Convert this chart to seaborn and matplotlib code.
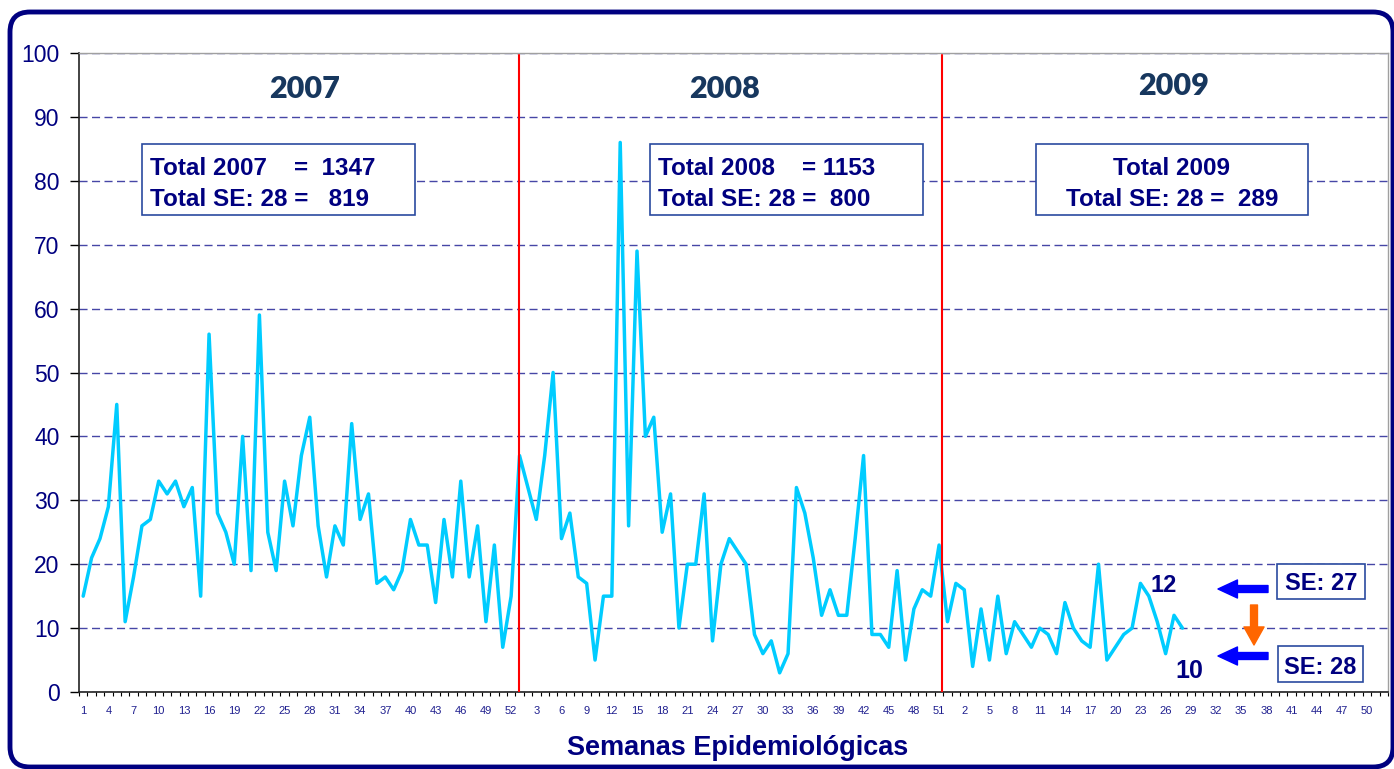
import numpy as np
import pandas as pd
import matplotlib
matplotlib.use('Agg')
import matplotlib.pyplot as plt
import seaborn as sns
from matplotlib.patches import Rectangle, FancyBboxPatch, FancyArrowPatch
from matplotlib.transforms import IdentityTransform

sns.set_style('white')
plt.rcParams['font.family'] = ['Liberation Sans', 'DejaVu Sans']

# casos semanales por semana epidemiologica
casos_2007 = [15, 21, 24, 29, 45, 11, 18, 26, 27, 33, 31, 33, 29, 32, 15, 56, 28, 25, 20, 40,
              19, 59, 25, 19, 33, 26, 37, 43, 26, 18, 26, 23, 42, 27, 31, 17, 18, 16, 19, 27,
              23, 23, 14, 27, 18, 33, 18, 26, 11, 23, 7, 15]
casos_2008 = [37, 32, 27, 37, 50, 24, 28, 18, 17, 5, 15, 15, 86, 26, 69, 40, 43, 25, 31, 10,
              20, 20, 31, 8, 20, 24, 22, 20, 9, 6, 8, 3, 6, 32, 28, 21, 12, 16, 12, 12,
              24, 37, 9, 9, 7, 19, 5, 13, 16, 15, 23, 11]
casos_2009 = [17, 16, 4, 13, 5, 15, 6, 11, 9, 7, 10, 9, 6, 14, 10, 8, 7, 20, 5, 7,
              9, 10, 17, 15, 11, 6, 12, 10]
semanas = list(range(1, 53))
anios = ['2007', '2008', '2009']
totales = ['Total 2007    =  1347', 'Total SE: 28 =   819',
           'Total 2008    = 1153', 'Total SE: 28 =  800',
           'Total 2009', 'Total SE: 28 =  289']

casos = casos_2007 + casos_2008 + casos_2009
df = pd.DataFrame({'pos': np.arange(len(casos)), 'casos': casos})
etiquetas = semanas * 3
n_cat = len(etiquetas)

W, H = 1394, 769
fig = plt.figure(figsize=(W / 100, H / 100), dpi=100)
ax = fig.add_axes([79 / W, 77 / H, 1309 / W, 639 / H])

def pa(x, y):
    # pixel de la imagen -> fraccion de ejes
    return ((x - 79) / 1309, (692 - y) / 639)

sns.lineplot(data=df, x='pos', y='casos', color='#00CCFF', lw=2.5, ax=ax, zorder=5)

ax.set_xlim(-0.5, n_cat - 0.5)
ax.set_ylim(0, 100)
ax.set_xlabel('')
ax.set_ylabel('')

ax.set_yticks(range(0, 101, 10))
ax.set_xticks(np.arange(0, n_cat, 3))
ax.set_xticklabels(etiquetas[::3])
ax.set_xticks(np.arange(-0.5, n_cat, 1), minor=True)

ax.tick_params(axis='y', which='major', left=True, length=6.5, width=1, color='black',
               labelsize=16.5, labelcolor='#000080', pad=7.5, direction='out')
ax.tick_params(axis='x', which='major', bottom=True, length=0, labelsize=8,
               labelcolor='#1F1F8F', pad=10)
ax.tick_params(axis='x', which='minor', bottom=True, length=3, width=0.8,
               color='black', direction='out')

ax.yaxis.grid(True, color='#4646A6', lw=1.0, linestyle=(0, (5.8, 3.2)))
ax.set_axisbelow(True)

for s in ['left', 'bottom']:
    ax.spines[s].set_color('#222222')
    ax.spines[s].set_linewidth(1.2)
for s in ['top', 'right']:
    ax.spines[s].set_color('#A0A0A0')
    ax.spines[s].set_linewidth(1.0)

# separadores de año
for xr in [51.9, 102.3]:
    ax.axvline(xr, ymin=0, ymax=0.997, color='#FF0000', lw=1.5, zorder=6)

# años
for (x, y), a in zip([(305, 98), (725, 98), (1174, 95)], anios):
    ax.text(*pa(x, y), a, transform=ax.transAxes, ha='center', va='baseline',
            fontsize=22, fontweight='heavy', color='#17375E', family=['Lato', 'DejaVu Sans'])

# cuadros de totales
cajas = [(142, 415), (650, 923), (1036, 1308)]
for k, (x0, x1) in enumerate(cajas):
    a0 = pa(x0, 215)
    a1 = pa(x1, 144)
    ax.add_patch(Rectangle(a0, a1[0] - a0[0], a1[1] - a0[1], transform=ax.transAxes,
                           facecolor='white', edgecolor='#2A4A9F', lw=1.2, zorder=3))
    if k < 2:
        xt, ha = x0 + 8, 'left'
    else:
        xt, ha = (x0 + x1) / 2, 'center'
    for j, yb in enumerate([175, 206.5]):
        ax.text(*pa(xt, yb), totales[2 * k + j], transform=ax.transAxes, ha=ha,
                va='baseline', fontsize=17.5, fontweight='bold', color='#000080', zorder=4)

# cuadros SE
for (x0, x1, y0, y1), txt in zip([(1277, 1365, 564, 599), (1278, 1363, 646, 682)],
                                 ['SE: 27', 'SE: 28']):
    a0 = pa(x0, y1)
    a1 = pa(x1, y0)
    ax.add_patch(Rectangle(a0, a1[0] - a0[0], a1[1] - a0[1], transform=ax.transAxes,
                           facecolor='white', edgecolor='#2A4A9F', lw=1.2, zorder=3))
    ax.text(*pa((x0 + x1) / 2, y1 - 8.5), txt, transform=ax.transAxes, ha='center',
            va='baseline', fontsize=17, fontweight='bold', color='#000080', zorder=4)

ax.text(*pa(1164, 592), '12', transform=ax.transAxes, ha='center', va='baseline',
        fontsize=17, fontweight='bold', color='#000080', zorder=7)
ax.text(*pa(1189, 678), '10', transform=ax.transAxes, ha='center', va='baseline',
        fontsize=18, fontweight='bold', color='#000080', zorder=7)

# flechas
for yy in [589, 656]:
    ax.add_patch(FancyArrowPatch(pa(1268, yy), pa(1218, yy), transform=ax.transAxes,
                                 arrowstyle='simple,head_length=14,head_width=13,tail_width=5',
                                 color='#0000FF', shrinkA=0, shrinkB=0, zorder=7))
ax.add_patch(FancyArrowPatch(pa(1254, 605), pa(1254, 645), transform=ax.transAxes,
                             arrowstyle='simple,head_length=13,head_width=14.5,tail_width=5',
                             color='#FF6600', shrinkA=0, shrinkB=0, zorder=7))

fig.text(738 / W, 1 - 755 / H, 'Semanas Epidemiológicas', ha='center', va='baseline',
         fontsize=19.5, fontweight='bold', color='#000080')

# marco redondeado exterior
marco = FancyBboxPatch((10, 2), 1383, 755, boxstyle='round,pad=0,rounding_size=20',
                       transform=IdentityTransform(), fill=False, edgecolor='#000080', lw=3.5)
fig.patches.append(marco)

fig.savefig('out.png', dpi=100)
